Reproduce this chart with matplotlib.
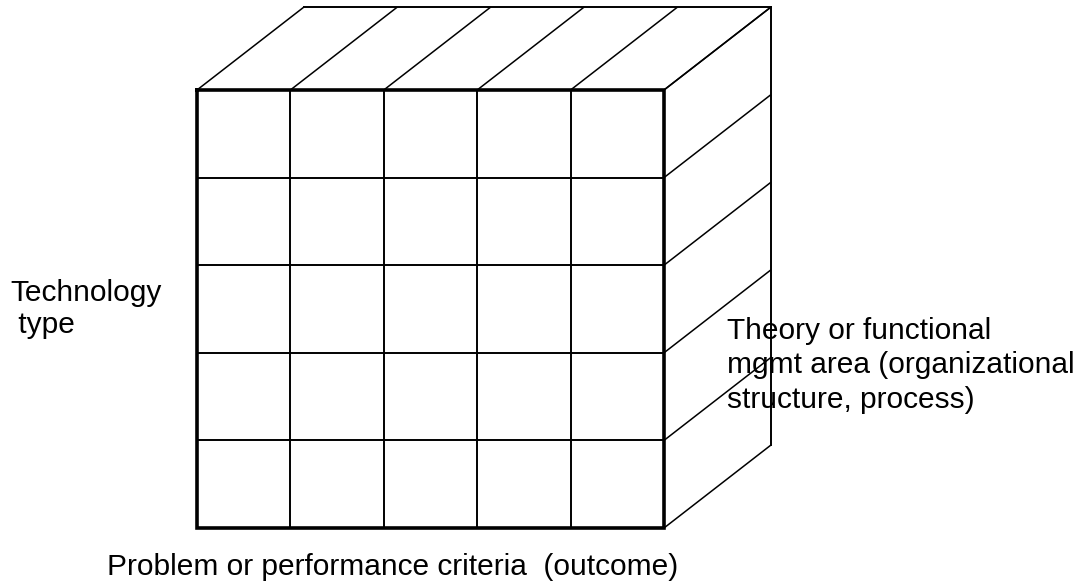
import matplotlib.pyplot as plt

plt.rcParams['font.family'] = ['Liberation Sans', 'DejaVu Sans']

# grid divisions of the cube (front face columns / rows, side face rows)
col_edges = [0, 1, 2, 3, 4, 5]
row_edges = [0, 1, 2, 3, 4, 5]

label_left = "Technology\n type"
label_right = "Theory or functional\nmgmt area (organizational\nstructure, process)"
label_bottom = "Problem or performance criteria  (outcome)"

# layout (pixels)
X0, Y0 = 197, 90          # front face top-left
CELL_W, CELL_H = 93.4, 87.6
DX, DY = 107, 83          # depth offset


def front(c, r):
    return X0 + c * CELL_W, Y0 + r * CELL_H


fig = plt.figure(figsize=(10.8, 5.88), dpi=100)
ax = fig.add_axes([0, 0, 1, 1])
ax.set_xlim(0, 1080)
ax.set_ylim(588, 0)
ax.axis('off')

n_c, n_r = col_edges[-1], row_edges[-1]

# top face: receding lines from each column edge plus back edge
for c in col_edges:
    x, y = front(c, 0)
    ax.plot([x, x + DX], [y, y - DY], color='black', lw=1.1, solid_capstyle='butt')
x_l, y_t = front(0, 0)
x_r, _ = front(n_c, 0)
ax.plot([x_l + DX, x_r + DX], [y_t - DY, y_t - DY], color='black', lw=1.4)

# side face: receding lines from each row edge plus back vertical
for r in row_edges:
    x, y = front(n_c, r)
    ax.plot([x, x + DX], [y, y - DY], color='black', lw=1.1, solid_capstyle='butt')
_, y_b = front(0, n_r)
ax.plot([x_r + DX, x_r + DX], [y_t - DY, y_b - DY], color='black', lw=1.4)

# front face inner grid
for c in col_edges[1:-1]:
    x, _ = front(c, 0)
    ax.plot([x, x], [y_t, y_b], color='black', lw=1.4)
for r in row_edges[1:-1]:
    _, y = front(0, r)
    ax.plot([x_l, x_r], [y, y], color='black', lw=1.4)

# front face border
ax.plot([x_l, x_r, x_r, x_l, x_l], [y_t, y_t, y_b, y_b, y_t],
        color='black', lw=2.6, solid_joinstyle='miter')

# labels (y = baseline of last line)
ax.text(10, 333, label_left, fontsize=21.5, ha='left', va='baseline',
        linespacing=1.2)
ax.text(727, 408, label_right, fontsize=21.5, ha='left', va='baseline',
        linespacing=1.3)
ax.text(107, 575, label_bottom, fontsize=21.5, ha='left', va='baseline')

fig.savefig('out.png', dpi=100)
plt.close(fig)
